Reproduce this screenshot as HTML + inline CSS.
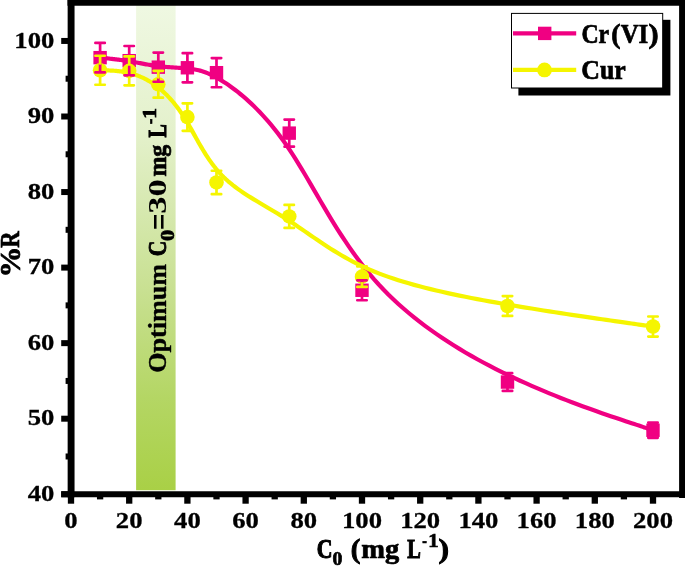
<!DOCTYPE html>
<html><head><meta charset="utf-8"><title>chart</title>
<style>
html,body{margin:0;padding:0;background:#fff}
svg{display:block;will-change:transform}
text{font-family:"Liberation Serif",serif;font-weight:bold;fill:#000}
</style></head><body>
<svg width="685" height="566" viewBox="0 0 685 566">
<defs><linearGradient id="g" x1="0" y1="0" x2="0" y2="1">
<stop offset="0" stop-color="#eff8e2"/>
<stop offset="0.26" stop-color="#e4f1cc"/>
<stop offset="0.59" stop-color="#c8e091"/>
<stop offset="0.81" stop-color="#b4d664"/>
<stop offset="1" stop-color="#a9d046"/>
</linearGradient></defs>
<rect width="685" height="566" fill="#fff"/>
<rect x="136.1" y="5" width="39.5" height="485.2" fill="url(#g)"/>

<text stroke="#000" transform="translate(166.00,0) rotate(-90)"><tspan x="-372.82" y="0.00" font-size="25.20" textLength="108.75" lengthAdjust="spacingAndGlyphs" stroke-width="0.4">Optimum</tspan> <tspan x="-256.16" y="0.00" font-size="25.20" textLength="15.52" lengthAdjust="spacingAndGlyphs" stroke-width="0.9">C</tspan><tspan x="-240.94" y="7.80" font-size="18.60" textLength="11.09" lengthAdjust="spacingAndGlyphs" stroke-width="0.7">0</tspan><tspan x="-230.17" y="4.60" font-size="36.54" textLength="16.76" lengthAdjust="spacingAndGlyphs" stroke-width="0.01">=</tspan><tspan x="-213.67" y="0.00" font-size="25.20" textLength="34.55" lengthAdjust="spacingAndGlyphs" stroke-width="0.01">30</tspan> <tspan x="-176.62" y="0.00" font-size="25.20" textLength="31.97" lengthAdjust="spacingAndGlyphs" stroke-width="0.7">mg</tspan> <tspan x="-137.56" y="0.00" font-size="25.20" textLength="13.24" lengthAdjust="spacingAndGlyphs" stroke-width="1.1">L</tspan><tspan x="-124.06" y="-9.80" font-size="18.40" textLength="5.39" lengthAdjust="spacingAndGlyphs" stroke-width="0.7">-</tspan><tspan x="-118.74" y="-9.80" font-size="18.40" textLength="10.80" lengthAdjust="spacingAndGlyphs" stroke-width="0.7">1</tspan></text>
<path d="M100.10,57.65 L100.10,57.65 L100.10,57.65 L100.11,57.65 L100.12,57.65 L100.14,57.65 L100.18,57.65 L100.22,57.66 L100.28,57.67 L100.36,57.67 L100.45,57.68 L100.57,57.70 L100.71,57.71 L100.87,57.73 L101.06,57.75 L101.28,57.77 L101.54,57.80 L101.82,57.83 L102.15,57.86 L102.51,57.90 L102.91,57.94 L103.35,57.98 L103.84,58.03 L104.37,58.09 L104.95,58.15 L105.58,58.22 L106.26,58.29 L106.99,58.36 L107.76,58.44 L108.57,58.53 L109.42,58.62 L110.31,58.72 L111.24,58.82 L112.20,58.93 L113.19,59.05 L114.21,59.17 L115.26,59.29 L116.33,59.42 L117.43,59.56 L118.54,59.70 L119.68,59.85 L120.83,60.01 L122.00,60.17 L123.18,60.33 L124.37,60.50 L125.57,60.68 L126.78,60.86 L127.99,61.05 L129.20,61.25 L130.41,61.45 L131.62,61.66 L132.84,61.87 L134.05,62.08 L135.26,62.30 L136.47,62.52 L137.69,62.75 L138.90,62.97 L140.11,63.19 L141.33,63.42 L142.54,63.64 L143.75,63.87 L144.96,64.09 L146.18,64.31 L147.39,64.52 L148.60,64.73 L149.81,64.94 L151.02,65.14 L152.24,65.33 L153.45,65.52 L154.66,65.70 L155.88,65.87 L157.09,66.03 L158.30,66.18 L159.51,66.33 L160.73,66.46 L161.94,66.58 L163.15,66.70 L164.36,66.81 L165.58,66.91 L166.79,67.01 L168.00,67.10 L169.21,67.19 L170.43,67.27 L171.64,67.36 L172.85,67.43 L174.06,67.51 L175.27,67.59 L176.49,67.67 L177.70,67.75 L178.91,67.82 L180.12,67.91 L181.34,67.99 L182.55,68.08 L183.76,68.17 L184.98,68.27 L186.19,68.38 L187.40,68.49 L188.61,68.61 L189.83,68.74 L191.05,68.88 L192.28,69.05 L193.53,69.23 L194.79,69.45 L196.07,69.69 L197.37,69.96 L198.70,70.28 L200.05,70.63 L201.44,71.03 L202.86,71.47 L204.32,71.97 L205.82,72.52 L207.36,73.14 L208.96,73.81 L210.60,74.56 L212.29,75.37 L214.05,76.26 L215.86,77.22 L217.74,78.27 L219.68,79.40 L221.69,80.62 L223.77,81.94 L225.93,83.35 L228.17,84.86 L230.47,86.47 L232.84,88.18 L235.27,90.01 L237.76,91.95 L240.30,94.00 L242.91,96.17 L245.56,98.46 L248.26,100.87 L251.00,103.41 L253.78,106.07 L256.61,108.87 L259.46,111.81 L262.35,114.88 L265.27,118.09 L268.21,121.45 L271.18,124.96 L274.16,128.61 L277.16,132.42 L280.17,136.38 L283.19,140.50 L286.22,144.79 L289.25,149.24 L292.28,153.85 L295.32,158.62 L298.37,163.54 L301.43,168.59 L304.52,173.76 L307.63,179.04 L310.77,184.41 L313.95,189.87 L317.17,195.41 L320.44,201.01 L323.76,206.66 L327.14,212.35 L330.58,218.06 L334.09,223.79 L337.68,229.53 L341.34,235.25 L345.09,240.96 L348.93,246.64 L352.86,252.27 L356.89,257.85 L361.03,263.36 L365.28,268.79 L369.64,274.13 L374.12,279.37 L378.73,284.50 L383.46,289.52 L388.31,294.43 L393.27,299.23 L398.33,303.92 L403.49,308.50 L408.75,312.99 L414.09,317.37 L419.52,321.65 L425.03,325.82 L430.61,329.91 L436.27,333.89 L441.98,337.78 L447.75,341.58 L453.58,345.29 L459.45,348.90 L465.36,352.43 L471.31,355.87 L477.30,359.23 L483.31,362.50 L489.34,365.70 L495.38,368.81 L501.44,371.84 L507.50,374.79 L513.56,377.67 L519.61,380.47 L525.64,383.20 L531.64,385.85 L537.59,388.42 L543.50,390.92 L549.34,393.34 L555.10,395.67 L560.78,397.94 L566.37,400.12 L571.85,402.22 L577.22,404.25 L582.46,406.19 L587.56,408.06 L592.52,409.84 L597.31,411.54 L601.94,413.17 L606.39,414.71 L610.66,416.17 L614.72,417.54 L618.57,418.84 L622.20,420.05 L625.59,421.18 L628.75,422.23 L631.66,423.19 L634.32,424.07 L636.75,424.88 L638.97,425.61 L640.97,426.27 L642.77,426.87 L644.38,427.40 L645.81,427.88 L647.08,428.30 L648.19,428.66 L649.15,428.98 L649.97,429.25 L650.67,429.49 L651.25,429.68 L651.72,429.84 L652.10,429.96 L652.40,430.06 L652.62,430.13 L652.78,430.19 L652.89,430.22 L652.95,430.24 L652.99,430.25 L653.00,430.26 L653.00,430.26" stroke="#f00082" stroke-width="4.2" fill="none" stroke-linejoin="round"/>
<rect x="93.40" y="50.95" width="13.4" height="13.4" fill="#f00082"/>
<rect x="122.50" y="53.97" width="13.4" height="13.4" fill="#f00082"/>
<rect x="151.60" y="60.47" width="13.4" height="13.4" fill="#f00082"/>
<rect x="180.70" y="61.07" width="13.4" height="13.4" fill="#f00082"/>
<rect x="209.80" y="65.98" width="13.4" height="13.4" fill="#f00082"/>
<rect x="282.55" y="126.42" width="13.4" height="13.4" fill="#f00082"/>
<rect x="355.30" y="283.56" width="13.4" height="13.4" fill="#f00082"/>
<rect x="500.80" y="375.36" width="13.4" height="13.4" fill="#f00082"/>
<rect x="646.30" y="423.56" width="13.4" height="13.4" fill="#f00082"/>
<path d="M100.10,70.26 L100.10,70.26 L100.10,70.26 L100.11,70.26 L100.12,70.26 L100.14,70.26 L100.18,70.26 L100.22,70.27 L100.28,70.27 L100.36,70.27 L100.45,70.27 L100.57,70.27 L100.71,70.28 L100.87,70.28 L101.06,70.28 L101.28,70.29 L101.54,70.29 L101.82,70.30 L102.15,70.31 L102.51,70.31 L102.91,70.32 L103.35,70.33 L103.84,70.34 L104.37,70.35 L104.95,70.36 L105.58,70.38 L106.26,70.39 L106.99,70.41 L107.76,70.43 L108.57,70.46 L109.42,70.49 L110.31,70.53 L111.24,70.57 L112.20,70.63 L113.19,70.69 L114.21,70.76 L115.26,70.84 L116.33,70.94 L117.43,71.05 L118.54,71.17 L119.68,71.30 L120.83,71.45 L122.00,71.62 L123.18,71.80 L124.37,72.00 L125.57,72.22 L126.78,72.46 L127.99,72.72 L129.20,73.00 L130.41,73.30 L131.62,73.62 L132.84,73.97 L134.05,74.34 L135.26,74.74 L136.47,75.16 L137.69,75.60 L138.90,76.08 L140.11,76.57 L141.33,77.10 L142.54,77.65 L143.75,78.23 L144.96,78.83 L146.18,79.47 L147.39,80.13 L148.60,80.82 L149.81,81.55 L151.02,82.30 L152.24,83.09 L153.45,83.90 L154.66,84.75 L155.88,85.63 L157.09,86.54 L158.30,87.49 L159.51,88.47 L160.73,89.48 L161.94,90.54 L163.15,91.62 L164.36,92.75 L165.58,93.91 L166.79,95.11 L168.00,96.36 L169.21,97.64 L170.43,98.97 L171.64,100.34 L172.85,101.76 L174.06,103.21 L175.27,104.72 L176.49,106.27 L177.70,107.87 L178.91,109.52 L180.12,111.22 L181.34,112.97 L182.55,114.78 L183.76,116.63 L184.98,118.54 L186.19,120.50 L187.40,122.52 L188.61,124.59 L189.83,126.72 L191.05,128.89 L192.28,131.11 L193.53,133.36 L194.79,135.64 L196.07,137.96 L197.37,140.30 L198.70,142.66 L200.05,145.03 L201.44,147.41 L202.86,149.80 L204.32,152.19 L205.82,154.58 L207.36,156.96 L208.96,159.32 L210.60,161.67 L212.29,164.00 L214.05,166.30 L215.86,168.56 L217.74,170.80 L219.68,172.99 L221.69,175.13 L223.77,177.23 L225.93,179.27 L228.17,181.27 L230.47,183.21 L232.84,185.12 L235.27,186.98 L237.76,188.82 L240.30,190.62 L242.91,192.40 L245.56,194.16 L248.26,195.90 L251.00,197.63 L253.78,199.35 L256.61,201.06 L259.46,202.78 L262.35,204.49 L265.27,206.22 L268.21,207.96 L271.18,209.71 L274.16,211.49 L277.16,213.29 L280.17,215.12 L283.19,216.98 L286.22,218.88 L289.25,220.82 L292.28,222.81 L295.32,224.83 L298.37,226.90 L301.43,228.99 L304.52,231.12 L307.63,233.27 L310.77,235.44 L313.95,237.63 L317.17,239.83 L320.44,242.04 L323.76,244.25 L327.14,246.46 L330.58,248.67 L334.09,250.87 L337.68,253.06 L341.34,255.23 L345.09,257.38 L348.93,259.51 L352.86,261.61 L356.89,263.67 L361.03,265.70 L365.28,267.68 L369.64,269.62 L374.12,271.52 L378.73,273.35 L383.46,275.14 L388.31,276.88 L393.27,278.56 L398.33,280.20 L403.49,281.80 L408.75,283.35 L414.09,284.86 L419.52,286.32 L425.03,287.75 L430.61,289.14 L436.27,290.50 L441.98,291.82 L447.75,293.10 L453.58,294.36 L459.45,295.58 L465.36,296.78 L471.31,297.95 L477.30,299.10 L483.31,300.22 L489.34,301.33 L495.38,302.41 L501.44,303.47 L507.50,304.52 L513.56,305.55 L519.61,306.56 L525.64,307.56 L531.64,308.54 L537.59,309.50 L543.50,310.45 L549.34,311.37 L555.10,312.27 L560.78,313.15 L566.37,314.00 L571.85,314.84 L577.22,315.64 L582.46,316.43 L587.56,317.18 L592.52,317.91 L597.31,318.61 L601.94,319.28 L606.39,319.92 L610.66,320.54 L614.72,321.12 L618.57,321.66 L622.20,322.18 L625.59,322.66 L628.75,323.10 L631.66,323.51 L634.32,323.89 L636.75,324.23 L638.97,324.55 L640.97,324.83 L642.77,325.08 L644.38,325.31 L645.81,325.51 L647.08,325.69 L648.19,325.85 L649.15,325.98 L649.97,326.10 L650.67,326.20 L651.25,326.28 L651.72,326.35 L652.10,326.40 L652.40,326.44 L652.62,326.48 L652.78,326.50 L652.89,326.51 L652.95,326.52 L652.99,326.53 L653.00,326.53 L653.00,326.53" stroke="#f5f500" stroke-width="4.2" fill="none" stroke-linejoin="round"/>
<circle cx="100.10" cy="70.26" r="7.3" fill="#f5f500"/>
<circle cx="129.20" cy="70.87" r="7.3" fill="#f5f500"/>
<circle cx="158.30" cy="84.24" r="7.3" fill="#f5f500"/>
<circle cx="187.40" cy="117.10" r="7.3" fill="#f5f500"/>
<circle cx="216.50" cy="182.46" r="7.3" fill="#f5f500"/>
<circle cx="289.25" cy="216.45" r="7.3" fill="#f5f500"/>
<circle cx="362.00" cy="276.67" r="7.3" fill="#f5f500"/>
<circle cx="507.50" cy="305.98" r="7.3" fill="#f5f500"/>
<circle cx="653.00" cy="326.53" r="7.3" fill="#f5f500"/>
<path d="M100.10,51.45V42.91M100.10,63.85V72.38M95.40,42.91h9.4M95.40,72.38h9.4" stroke="#f00082" stroke-width="2.7" stroke-linecap="round" fill="none"/>
<path d="M129.20,54.47V46.01M129.20,66.87V75.33M124.50,46.01h9.4M124.50,75.33h9.4" stroke="#f00082" stroke-width="2.7" stroke-linecap="round" fill="none"/>
<path d="M158.30,60.97V52.58M158.30,73.37V81.75M153.60,52.58h9.4M153.60,81.75h9.4" stroke="#f00082" stroke-width="2.7" stroke-linecap="round" fill="none"/>
<path d="M187.40,61.57V53.19M187.40,73.97V82.35M182.70,53.19h9.4M182.70,82.35h9.4" stroke="#f00082" stroke-width="2.7" stroke-linecap="round" fill="none"/>
<path d="M216.50,66.48V58.10M216.50,78.88V87.26M211.80,58.10h9.4M211.80,87.26h9.4" stroke="#f00082" stroke-width="2.7" stroke-linecap="round" fill="none"/>
<path d="M289.25,126.92V119.60M289.25,139.32V146.64M284.55,119.60h9.4M284.55,146.64h9.4" stroke="#f00082" stroke-width="2.7" stroke-linecap="round" fill="none"/>
<path d="M362.00,284.06V280.29M362.00,296.46V300.24M357.30,280.29h9.4M357.30,300.24h9.4" stroke="#f00082" stroke-width="2.7" stroke-linecap="round" fill="none"/>
<path d="M507.50,375.86V373.14M507.50,388.26V390.97M502.80,373.14h9.4M502.80,390.97h9.4" stroke="#f00082" stroke-width="2.7" stroke-linecap="round" fill="none"/>
<path d="M653.00,424.06V422.70M653.00,436.46V437.81M648.30,422.70h9.4M648.30,437.81h9.4" stroke="#f00082" stroke-width="2.7" stroke-linecap="round" fill="none"/>
<path d="M100.10,63.46V55.76M100.10,77.06V84.77M95.40,55.76h9.4M95.40,84.77h9.4" stroke="#f5f500" stroke-width="2.7" stroke-linecap="round" fill="none"/>
<path d="M129.20,64.07V56.44M129.20,77.67V85.30M124.50,56.44h9.4M124.50,85.30h9.4" stroke="#f5f500" stroke-width="2.7" stroke-linecap="round" fill="none"/>
<path d="M158.30,77.44V70.79M158.30,91.04V97.69M153.60,70.79h9.4M153.60,97.69h9.4" stroke="#f5f500" stroke-width="2.7" stroke-linecap="round" fill="none"/>
<path d="M187.40,110.30V103.35M187.40,123.90V130.85M182.70,103.35h9.4M182.70,130.85h9.4" stroke="#f5f500" stroke-width="2.7" stroke-linecap="round" fill="none"/>
<path d="M216.50,175.66V170.74M216.50,189.26V194.17M211.80,170.74h9.4M211.80,194.17h9.4" stroke="#f5f500" stroke-width="2.7" stroke-linecap="round" fill="none"/>
<path d="M289.25,209.65V204.97M289.25,223.25V227.94M284.55,204.97h9.4M284.55,227.94h9.4" stroke="#f5f500" stroke-width="2.7" stroke-linecap="round" fill="none"/>
<path d="M362.00,269.87V266.39M362.00,283.47V286.94M357.30,266.39h9.4M357.30,286.94h9.4" stroke="#f5f500" stroke-width="2.7" stroke-linecap="round" fill="none"/>
<path d="M507.50,299.18V296.08M507.50,312.78V315.88M502.80,296.08h9.4M502.80,315.88h9.4" stroke="#f5f500" stroke-width="2.7" stroke-linecap="round" fill="none"/>
<path d="M653.00,319.73V316.48M653.00,333.33V336.58M648.30,316.48h9.4M648.30,336.58h9.4" stroke="#f5f500" stroke-width="2.7" stroke-linecap="round" fill="none"/>
<g stroke="#000" fill="none">
<path d="M71.1,0V497.2" stroke-width="6.9"/>
<path d="M61.2,494.25H685" stroke-width="5.9"/>
<path d="M67.5,2.8H685" stroke-width="6.1"/>
<path d="M682.6,0V498" stroke-width="7"/>
<path d="M61.2,494.25H68" stroke-width="6"/>
<path d="M61.2,418.70H68" stroke-width="6"/>
<path d="M61.2,343.15H68" stroke-width="6"/>
<path d="M61.2,267.60H68" stroke-width="6"/>
<path d="M61.2,192.05H68" stroke-width="6"/>
<path d="M61.2,116.50H68" stroke-width="6"/>
<path d="M61.2,40.95H68" stroke-width="6"/>
<path d="M65.6,456.48H68" stroke-width="6"/>
<path d="M65.6,380.93H68" stroke-width="6"/>
<path d="M65.6,305.38H68" stroke-width="6"/>
<path d="M65.6,229.82H68" stroke-width="6"/>
<path d="M65.6,154.28H68" stroke-width="6"/>
<path d="M65.6,78.73H68" stroke-width="6"/>
<path d="M71.00,496V503.7" stroke-width="6.3"/>
<path d="M129.20,496V503.7" stroke-width="6.3"/>
<path d="M187.40,496V503.7" stroke-width="6.3"/>
<path d="M245.60,496V503.7" stroke-width="6.3"/>
<path d="M303.80,496V503.7" stroke-width="6.3"/>
<path d="M362.00,496V503.7" stroke-width="6.3"/>
<path d="M420.20,496V503.7" stroke-width="6.3"/>
<path d="M478.40,496V503.7" stroke-width="6.3"/>
<path d="M536.60,496V503.7" stroke-width="6.3"/>
<path d="M594.80,496V503.7" stroke-width="6.3"/>
<path d="M653.00,496V503.7" stroke-width="6.3"/>
<path d="M100.10,496V499.4" stroke-width="6.3"/>
<path d="M158.30,496V499.4" stroke-width="6.3"/>
<path d="M216.50,496V499.4" stroke-width="6.3"/>
<path d="M274.70,496V499.4" stroke-width="6.3"/>
<path d="M332.90,496V499.4" stroke-width="6.3"/>
<path d="M391.10,496V499.4" stroke-width="6.3"/>
<path d="M449.30,496V499.4" stroke-width="6.3"/>
<path d="M507.50,496V499.4" stroke-width="6.3"/>
<path d="M565.70,496V499.4" stroke-width="6.3"/>
<path d="M623.90,496V499.4" stroke-width="6.3"/>
</g>
<text transform="translate(54.3,501.00) scale(1.175,1)" font-size="22.7" text-anchor="end" stroke="#000" stroke-width="0.3" vector-effect="non-scaling-stroke">40</text>
<text transform="translate(54.3,425.45) scale(1.175,1)" font-size="22.7" text-anchor="end" stroke="#000" stroke-width="0.3" vector-effect="non-scaling-stroke">50</text>
<text transform="translate(54.3,349.90) scale(1.175,1)" font-size="22.7" text-anchor="end" stroke="#000" stroke-width="0.3" vector-effect="non-scaling-stroke">60</text>
<text transform="translate(54.3,274.35) scale(1.175,1)" font-size="22.7" text-anchor="end" stroke="#000" stroke-width="0.3" vector-effect="non-scaling-stroke">70</text>
<text transform="translate(54.3,198.80) scale(1.175,1)" font-size="22.7" text-anchor="end" stroke="#000" stroke-width="0.3" vector-effect="non-scaling-stroke">80</text>
<text transform="translate(54.3,123.25) scale(1.175,1)" font-size="22.7" text-anchor="end" stroke="#000" stroke-width="0.3" vector-effect="non-scaling-stroke">90</text>
<text transform="translate(54.3,47.70) scale(1.175,1)" font-size="22.7" text-anchor="end" stroke="#000" stroke-width="0.3" vector-effect="non-scaling-stroke">100</text>
<text transform="translate(71.00,528.4) scale(1.175,1)" font-size="22.7" text-anchor="middle" stroke="#000" stroke-width="0.3" vector-effect="non-scaling-stroke">0</text>
<text transform="translate(129.20,528.4) scale(1.175,1)" font-size="22.7" text-anchor="middle" stroke="#000" stroke-width="0.3" vector-effect="non-scaling-stroke">20</text>
<text transform="translate(187.40,528.4) scale(1.175,1)" font-size="22.7" text-anchor="middle" stroke="#000" stroke-width="0.3" vector-effect="non-scaling-stroke">40</text>
<text transform="translate(245.60,528.4) scale(1.175,1)" font-size="22.7" text-anchor="middle" stroke="#000" stroke-width="0.3" vector-effect="non-scaling-stroke">60</text>
<text transform="translate(303.80,528.4) scale(1.175,1)" font-size="22.7" text-anchor="middle" stroke="#000" stroke-width="0.3" vector-effect="non-scaling-stroke">80</text>
<text transform="translate(362.00,528.4) scale(1.175,1)" font-size="22.7" text-anchor="middle" stroke="#000" stroke-width="0.3" vector-effect="non-scaling-stroke">100</text>
<text transform="translate(420.20,528.4) scale(1.175,1)" font-size="22.7" text-anchor="middle" stroke="#000" stroke-width="0.3" vector-effect="non-scaling-stroke">120</text>
<text transform="translate(478.40,528.4) scale(1.175,1)" font-size="22.7" text-anchor="middle" stroke="#000" stroke-width="0.3" vector-effect="non-scaling-stroke">140</text>
<text transform="translate(536.60,528.4) scale(1.175,1)" font-size="22.7" text-anchor="middle" stroke="#000" stroke-width="0.3" vector-effect="non-scaling-stroke">160</text>
<text transform="translate(594.80,528.4) scale(1.175,1)" font-size="22.7" text-anchor="middle" stroke="#000" stroke-width="0.3" vector-effect="non-scaling-stroke">180</text>
<text transform="translate(653.00,528.4) scale(1.175,1)" font-size="22.7" text-anchor="middle" stroke="#000" stroke-width="0.3" vector-effect="non-scaling-stroke">200</text>
<text stroke="#000"><tspan x="316.73" y="558.20" font-size="26.60" textLength="15.76" lengthAdjust="spacingAndGlyphs" stroke-width="1.1">C</tspan><tspan x="332.54" y="565.00" font-size="18.80" textLength="9.83" lengthAdjust="spacingAndGlyphs" stroke-width="0.7">0</tspan> <tspan x="350.75" y="558.20" font-size="26.60" textLength="9.59" lengthAdjust="spacingAndGlyphs" stroke-width="0.9">(</tspan><tspan x="361.31" y="558.20" font-size="26.60" textLength="37.94" lengthAdjust="spacingAndGlyphs" stroke-width="0.7">mg</tspan> <tspan x="407.33" y="558.20" font-size="26.60" textLength="13.57" lengthAdjust="spacingAndGlyphs" stroke-width="1.1">L</tspan><tspan x="422.21" y="546.80" font-size="18.80" textLength="4.64" lengthAdjust="spacingAndGlyphs" stroke-width="0.7">-</tspan><tspan x="428.35" y="546.80" font-size="18.80" textLength="10.27" lengthAdjust="spacingAndGlyphs" stroke-width="0.7">1</tspan><tspan x="438.46" y="558.20" font-size="26.60" textLength="10.53" lengthAdjust="spacingAndGlyphs" stroke-width="0.9">)</tspan></text>
<text stroke="#000" transform="translate(19.40,0) rotate(-90)"><tspan x="-277.45" y="0.50" font-size="28.46" textLength="30.89" lengthAdjust="spacingAndGlyphs" stroke-width="0.7">%</tspan><tspan x="-247.81" y="0.00" font-size="27.40" textLength="16.48" lengthAdjust="spacingAndGlyphs" stroke-width="0.7">R</tspan></text>
<rect x="518.4" y="19.8" width="152" height="75.7" fill="#000"/>
<rect x="511.5" y="13.4" width="151.2" height="74.6" fill="#fff" stroke="#000" stroke-width="1"/>
<path d="M513,33.4H576.2" stroke="#f00082" stroke-width="4.2"/>
<rect x="538" y="26.7" width="13.4" height="13.4" fill="#f00082"/>
<path d="M513,69.9H576.2" stroke="#f5f500" stroke-width="4.2"/>
<circle cx="544.5" cy="69.9" r="7.4" fill="#f5f500"/>
<text stroke="#000"><tspan x="581.43" y="42.90" font-size="27.20" textLength="27.77" lengthAdjust="spacingAndGlyphs" stroke-width="0.7">Cr</tspan><tspan x="611.28" y="42.90" font-size="27.20" textLength="9.24" lengthAdjust="spacingAndGlyphs" stroke-width="0.7">(</tspan><tspan x="620.65" y="42.90" font-size="27.20" textLength="27.64" lengthAdjust="spacingAndGlyphs" stroke-width="0.7">VI</tspan><tspan x="648.60" y="42.90" font-size="27.20" textLength="10.15" lengthAdjust="spacingAndGlyphs" stroke-width="0.7">)</tspan></text>
<text stroke="#000"><tspan x="581.34" y="79.30" font-size="27.20" textLength="44.47" lengthAdjust="spacingAndGlyphs" stroke-width="0.7">Cur</tspan></text>
</svg></body></html>
